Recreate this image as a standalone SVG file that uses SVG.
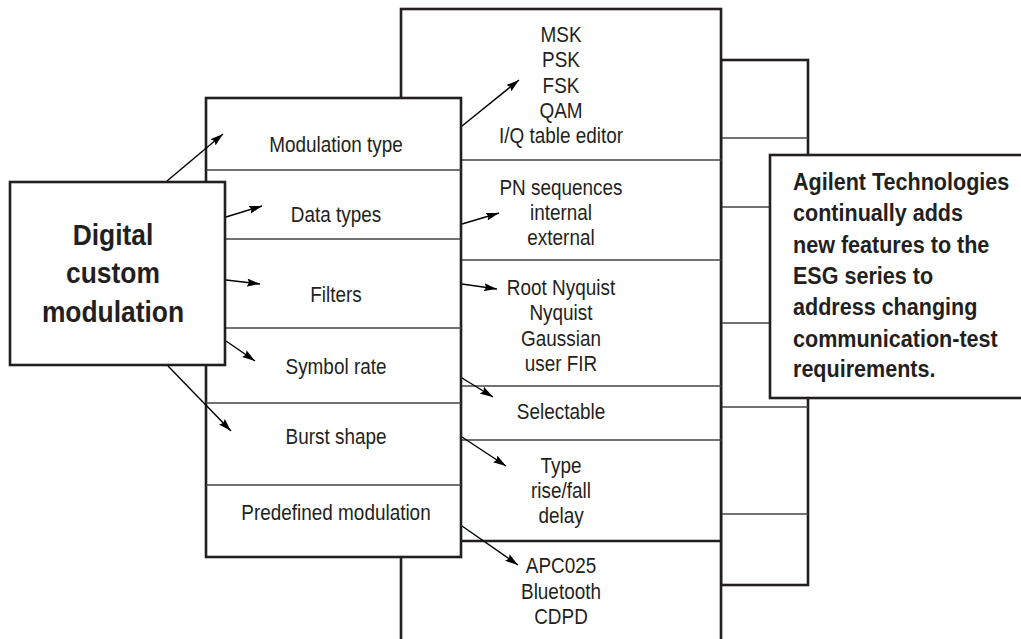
<svg xmlns="http://www.w3.org/2000/svg" width="1021" height="639" viewBox="0 0 1021 639">
<style>
.box{fill:#fff;stroke:#231f20;stroke-width:2.6}
.div{stroke:#444;stroke-width:1.5;fill:none}
.thick{stroke:#231f20;stroke-width:2.6;fill:none}
.t{font-family:"Liberation Sans",Arial,sans-serif;font-size:21.5px;fill:#231f20;text-anchor:middle}
.b{font-family:"Liberation Sans",Arial,sans-serif;font-weight:bold;fill:#231f20}
.arr{stroke:#000;stroke-width:1.4;fill:none;marker-end:url(#ah)}
</style>
<defs>
<marker id="ah" markerUnits="userSpaceOnUse" markerWidth="14" markerHeight="8" refX="13" refY="4" orient="auto">
<path d="M0,0 L13,4 L0,8 L2,4 z" fill="#000"/>
</marker>
</defs>
<rect width="1021" height="639" fill="#fff"/>
<g id="back-panel">
<rect class="box" x="721" y="60" width="87" height="525"/>
<path class="div" d="M721,138H808M721,207H808M721,323H808M721,407H808M721,514H808"/>
</g>
<g id="options-panel">
<rect class="box" x="401" y="9" width="320" height="700"/>
<path class="div" d="M401,160H721M401,260H721M401,386H721M401,440H721"/>
<path class="thick" d="M401,541H721"/>
<g transform="translate(561,0) scale(0.88,1)">
<text class="t" x="0" y="42">MSK</text>
<text class="t" x="0" y="67.5">PSK</text>
<text class="t" x="0" y="93">FSK</text>
<text class="t" x="0" y="118">QAM</text>
<text class="t" x="0" y="143.5">I/Q table editor</text>
<text class="t" x="0" y="195">PN sequences</text>
<text class="t" x="0" y="220">internal</text>
<text class="t" x="0" y="245">external</text>
<text class="t" x="0" y="295">Root Nyquist</text>
<text class="t" x="0" y="320">Nyquist</text>
<text class="t" x="0" y="346">Gaussian</text>
<text class="t" x="0" y="371">user FIR</text>
<text class="t" x="0" y="419">Selectable</text>
<text class="t" x="0" y="473">Type</text>
<text class="t" x="0" y="498">rise/fall</text>
<text class="t" x="0" y="523">delay</text>
<text class="t" x="0" y="573">APC025</text>
<text class="t" x="0" y="599">Bluetooth</text>
<text class="t" x="0" y="624">CDPD</text>
</g>
</g>
<g id="features-panel">
<rect class="box" x="206" y="98" width="255" height="459"/>
<path class="div" d="M206,170H461M206,239H461M206,328H461M206,403H461M206,485H461"/>
<g transform="translate(336,0) scale(0.88,1)">
<text class="t" x="0" y="152">Modulation type</text>
<text class="t" x="0" y="222">Data types</text>
<text class="t" x="0" y="302">Filters</text>
<text class="t" x="0" y="374">Symbol rate</text>
<text class="t" x="0" y="444">Burst shape</text>
<text class="t" x="0" y="520">Predefined modulation</text>
</g>
</g>
<g id="digital-custom-modulation">
<rect class="box" x="10" y="182" width="215" height="183" stroke-width="3"/>
<g transform="translate(113,0) scale(0.88,1)">
<text class="b" font-size="30" text-anchor="middle" x="0" y="245">Digital</text>
<text class="b" font-size="30" text-anchor="middle" x="0" y="283">custom</text>
<text class="b" font-size="30" text-anchor="middle" x="0" y="322">modulation</text>
</g>
</g>
<g id="agilent-note">
<rect class="box" x="770" y="155" width="270" height="243" stroke-width="3"/>
<g transform="translate(793,0) scale(0.88,1)">
<text class="b" font-size="24.5" x="0" y="190">Agilent Technologies</text>
<text class="b" font-size="24.5" x="0" y="221">continually adds</text>
<text class="b" font-size="24.5" x="0" y="253">new features to the</text>
<text class="b" font-size="24.5" x="0" y="284">ESG series to</text>
<text class="b" font-size="24.5" x="0" y="315">address changing</text>
<text class="b" font-size="24.5" x="0" y="347">communication-test</text>
<text class="b" font-size="24.5" x="0" y="377">requirements.</text>
</g>
</g>
<g id="connectors">
<line class="arr" x1="167" y1="181" x2="223" y2="134"/>
<line class="arr" x1="226" y1="217" x2="262" y2="206"/>
<line class="arr" x1="226" y1="280" x2="260" y2="284"/>
<line class="arr" x1="226" y1="341" x2="255" y2="361"/>
<line class="arr" x1="168" y1="366" x2="231" y2="431"/>
<line class="arr" x1="462" y1="126" x2="519" y2="80"/>
<line class="arr" x1="462" y1="224" x2="499" y2="213"/>
<line class="arr" x1="462" y1="284" x2="497" y2="289"/>
<line class="arr" x1="462" y1="378" x2="493" y2="397"/>
<line class="arr" x1="462" y1="437" x2="506" y2="466"/>
<line class="arr" x1="462" y1="526" x2="518" y2="565"/>
</g>
</svg>
